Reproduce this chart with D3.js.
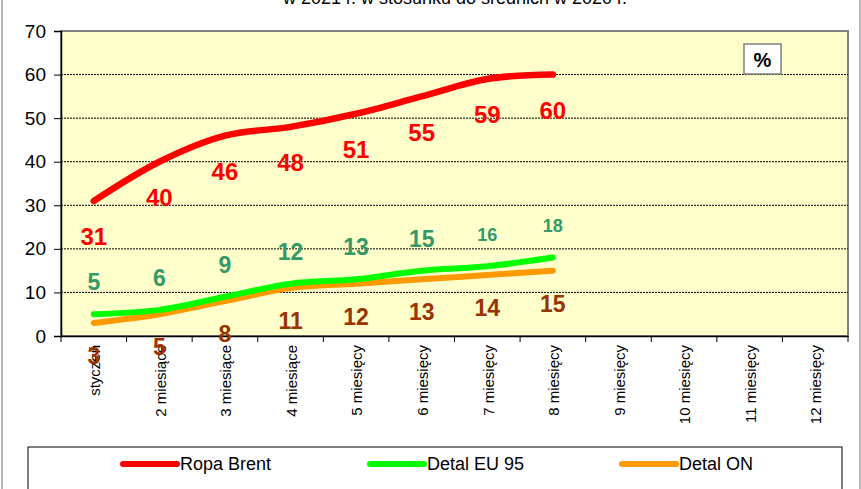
<!DOCTYPE html>
<html>
<head>
<meta charset="utf-8">
<script src="https://cdn.jsdelivr.net/npm/d3@7"></script>
<style>
  body { margin: 0; background: #fff; }
  text { font-family: Arial, "Liberation Sans", sans-serif; }
</style>
</head>
<body>
<div id="container"></div>
<script>
// data
const categories = ["styczeń", "2 miesiące", "3 miesiące", "4 miesiące", "5 miesięcy", "6 miesięcy",
  "7 miesięcy", "8 miesięcy", "9 miesięcy", "10 miesięcy", "11 miesięcy", "12 miesięcy"];
const brent = [31, 40, 46, 48, 51, 55, 59, 60];
const eu95 = [5, 6, 9, 12, 13, 15, 16, 18];
const on = [3, 5, 8, 11, 12, 13, 14, 15];
const yTicks = [0, 10, 20, 30, 40, 50, 60, 70];
const title = "w 2021 r. w stosunku do średnich w 2020 r.";

const width = 861, height = 489;
const plot = { left: 61, right: 848, top: 31, bottom: 336 };

const svg = d3.select("#container")
  .append("svg")
  .attr("width", width)
  .attr("height", height);

// outer frame
svg.append("rect")
  .attr("x", 2).attr("y", -10)
  .attr("width", width - 3).attr("height", height + 20)
  .attr("fill", "white").attr("stroke", "#a0a0a0").attr("stroke-width", 1.5);

// title (top part is cut off in the original)
svg.append("text")
  .attr("x", 455).attr("y", 4)
  .attr("text-anchor", "middle")
  .attr("font-size", 18)
  .text(title);

const x = d3.scaleBand().domain(categories).range([plot.left, plot.right]);
const y = d3.scaleLinear().domain([0, 70]).range([plot.bottom, plot.top]);

// plot area
svg.append("rect")
  .attr("x", plot.left).attr("y", plot.top)
  .attr("width", plot.right - plot.left).attr("height", plot.bottom - plot.top)
  .attr("fill", "#FFFFCC").attr("stroke", "#808080").attr("stroke-width", 2);

// grid
svg.selectAll(".grid")
  .data(yTicks.filter(d => d > 0 && d < 70))
  .join("line")
  .attr("x1", plot.left).attr("x2", plot.right)
  .attr("y1", d => y(d)).attr("y2", d => y(d))
  .attr("stroke", "#000").attr("stroke-width", 1)
  .attr("stroke-dasharray", "2,1");

// y axis
const yAxis = svg.append("g")
  .attr("transform", `translate(${plot.left},0)`)
  .call(d3.axisLeft(y).tickValues(yTicks).tickSize(7).tickPadding(8));
yAxis.selectAll("text").attr("font-size", 19).attr("fill", "#000");
yAxis.select(".domain").attr("stroke", "#000").attr("stroke-width", 1.5);

// x axis
const xAxis = svg.append("g")
  .attr("transform", `translate(0,${plot.bottom})`)
  .call(d3.axisBottom(x).tickSize(0).tickPadding(0));
xAxis.select(".domain").attr("stroke", "#000").attr("stroke-width", 1.5);
xAxis.selectAll("text")
  .attr("font-size", 15).attr("fill", "#000")
  .attr("text-anchor", "end")
  .attr("dy", "0.35em")
  .attr("transform", "translate(1,9) rotate(-90)")
  .attr("x", 0).attr("y", 0);
svg.selectAll(".xtick")
  .data(d3.range(categories.length + 1))
  .join("line")
  .attr("x1", i => plot.left + i * x.bandwidth())
  .attr("x2", i => plot.left + i * x.bandwidth())
  .attr("y1", plot.bottom).attr("y2", plot.bottom + 6)
  .attr("stroke", "#000").attr("stroke-width", 1);

// lines
const cx = i => x(categories[i]) + x.bandwidth() / 2;
const line = d3.line()
  .x((d, i) => cx(i))
  .y(d => y(d))
  .curve(d3.curveCatmullRom.alpha(0.5));

const series = [
  { name: "Ropa Brent", values: brent, color: "#FF0000", sw: 6.5, label: "#FF0000", dy: 36, fs: d => 24 },
  { name: "Detal EU 95", values: eu95, color: "#00FF00", sw: 6, label: "#339966", dy: -32, fs: (d, i) => i >= 6 ? 18 : 23 },
  { name: "Detal ON", values: on, color: "#FF9900", sw: 6, label: "#993300", dy: 33, fs: d => 23 }
];

// draw order: orange, green, red
[series[2], series[1], series[0]].forEach(s => {
  svg.append("path")
    .datum(s.values)
    .attr("d", line)
    .attr("fill", "none")
    .attr("stroke", s.color)
    .attr("stroke-width", s.sw)
    .attr("stroke-linecap", "round")
    .attr("stroke-linejoin", "round");
});

series.forEach(s => {
  svg.selectAll(null)
    .data(s.values)
    .join("text")
    .attr("x", (d, i) => cx(i))
    .attr("y", d => y(d) + s.dy)
    .attr("dy", "0.35em")
    .attr("text-anchor", "middle")
    .attr("font-size", (d, i) => s.fs(d, i))
    .attr("font-weight", "bold")
    .attr("fill", s.label)
    .text(d => d);
});

// % box
svg.append("rect")
  .attr("x", 744).attr("y", 44).attr("width", 37).attr("height", 30)
  .attr("fill", "white").attr("stroke", "#808080").attr("stroke-width", 1.5);
svg.append("text")
  .attr("x", 762.5).attr("y", 60).attr("dy", "0.35em")
  .attr("text-anchor", "middle").attr("font-size", 20).attr("font-weight", "bold")
  .text("%");

// legend
svg.append("rect")
  .attr("x", 28).attr("y", 447).attr("width", 814).attr("height", 60)
  .attr("fill", "white").attr("stroke", "#000").attr("stroke-width", 1);
const legendX = [123, 370, 622];
series.forEach((s, i) => {
  svg.append("line")
    .attr("x1", legendX[i]).attr("x2", legendX[i] + 54)
    .attr("y1", 464).attr("y2", 464)
    .attr("stroke", s.color).attr("stroke-width", 6)
    .attr("stroke-linecap", "round");
  svg.append("text")
    .attr("x", legendX[i] + 57).attr("y", 464).attr("dy", "0.35em")
    .attr("font-size", 18).attr("fill", "#000")
    .text(s.name);
});
</script>
</body>
</html>
